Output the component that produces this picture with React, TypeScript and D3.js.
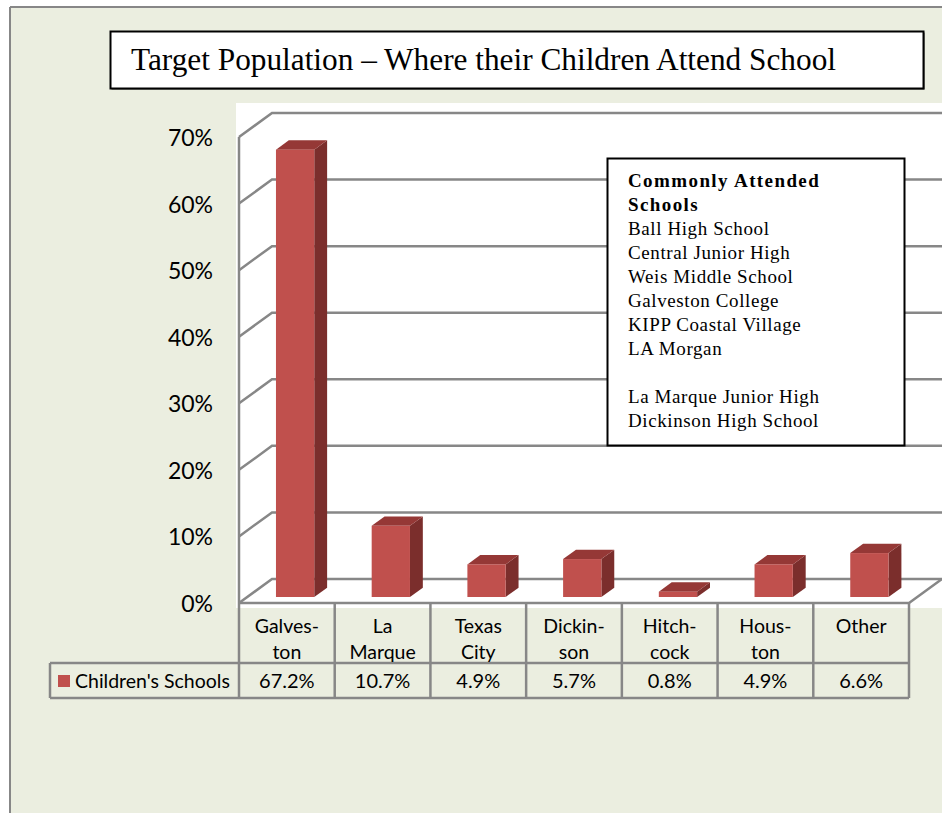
import React from "react";
import * as d3 from "d3";

const categoryLines: string[][] = [
  ["Galves-", "ton"],
  ["La", "Marque"],
  ["Texas", "City"],
  ["Dickin-", "son"],
  ["Hitch-", "cock"],
  ["Hous-", "ton"],
  ["Other"],
];
const values: number[] = [67.2, 10.7, 4.9, 5.7, 0.8, 4.9, 6.6];
const valueLabels: string[] = ["67.2%", "10.7%", "4.9%", "5.7%", "0.8%", "4.9%", "6.6%"];
const yTicks: number[] = [0, 10, 20, 30, 40, 50, 60, 70];
const seriesName = "Children's Schools";
const title = "Target Population \u2013 Where their Children Attend School";
const boxHeading: string[] = ["Commonly Attended", "Schools"];
const boxLines: string[] = [
  "Ball High School",
  "Central Junior High",
  "Weis Middle School",
  "Galveston College",
  "KIPP Coastal Village",
  "LA Morgan",
  "",
  "La Marque Junior High",
  "Dickinson High School",
];

const W = 942;
const H = 813;
const BG = "#ebeee0";
const GRID = "#878787";
const FRONT = "#c0504d";
const SIDE = "#7b2e2c";
const TOP = "#953836";
const SANS = "Lato, 'Open Sans', sans-serif";
const SERIF = "'Liberation Serif', 'DejaVu Serif', serif";

export default function App() {
  const x0 = 239;
  const x1 = 909;
  const DX = 33;
  const DY = -24;
  const x = d3.scaleBand<number>().domain(d3.range(values.length)).range([x0, x1]).paddingInner(0).paddingOuter(0);
  const y = d3.scaleLinear().domain([0, 70]).range([603, 137]);
  const bw = x.bandwidth();
  const barW = bw * 0.4;
  const f0 = 0.25;
  const fd = 0.39;
  const tableTop = y(0);
  const rowSep = 663;
  const tableBottom = 698;
  const legendLeft = 50;

  return (
    <svg width={W} height={H} style={{ position: "absolute", left: 0, top: 0 }} xmlns="http://www.w3.org/2000/svg">
      <rect x={0} y={0} width={W} height={H} fill="#ffffff" />
      <rect x={10} y={7} width={W - 10} height={H - 7} fill={BG} />
      <line x1={10} y1={7} x2={W} y2={7} stroke={GRID} strokeWidth={2} />
      <line x1={10} y1={7} x2={10} y2={H} stroke={GRID} strokeWidth={2} />

      {/* Title */}
      <rect x={111.5} y={32.5} width={813} height={57} fill="#333" />
      <rect x={110.5} y={31.5} width={813} height={57} fill="#fff" stroke="#000" strokeWidth={2} />
      <text x={131} y={70} fontFamily={SERIF} fontSize={31} textLength={705} lengthAdjust="spacingAndGlyphs" fill="#000">
        {title}
      </text>

      {/* plot area */}
      <rect x={236} y={103} width={W - 236} height={505} fill="#ffffff" />

      {/* gridlines */}
      {yTicks.map((t) => (
        <path
          key={t}
          d={`M${x0},${y(t)} L${x0 + DX},${y(t) + DY} L${W},${y(t) + DY}`}
          fill="none"
          stroke={GRID}
          strokeWidth={2.5}
        />
      ))}
      <line x1={x0} y1={y(70)} x2={x0} y2={y(0)} stroke={GRID} strokeWidth={2.5} />
      <path d={`M${x0},${y(0)} L${x1},${y(0)} L${x1 + DX},${y(0) + DY}`} fill="none" stroke={GRID} strokeWidth={2.5} />

      {/* bars */}
      {values.map((v, i) => {
        const cx = (x(i) as number) + bw / 2 + f0 * DX;
        const bx0 = cx - barW / 2;
        const bx1 = cx + barW / 2;
        const yb = y(0) + f0 * DY;
        const yt = y(v) + f0 * DY;
        const dx = fd * DX;
        const dy = fd * DY;
        return (
          <g key={i}>
            <polygon points={`${bx1},${yt} ${bx1 + dx},${yt + dy} ${bx1 + dx},${yb + dy} ${bx1},${yb}`} fill={SIDE} />
            <polygon points={`${bx0},${yt} ${bx0 + dx},${yt + dy} ${bx1 + dx},${yt + dy} ${bx1},${yt}`} fill={TOP} />
            <rect x={bx0} y={yt} width={barW} height={yb - yt} fill={FRONT} />
          </g>
        );
      })}

      {/* y axis labels */}
      {yTicks.map((t) => (
        <text key={t} x={213} y={y(t)} textAnchor="end" dominantBaseline="central" fontFamily={SANS} fontSize={23} fill="#000">
          {`${t}%`}
        </text>
      ))}

      {/* data table */}
      <line x1={legendLeft} y1={rowSep} x2={x1} y2={rowSep} stroke={GRID} strokeWidth={2.5} />
      <line x1={legendLeft} y1={tableBottom} x2={x1} y2={tableBottom} stroke={GRID} strokeWidth={2.5} />
      <line x1={legendLeft} y1={rowSep} x2={legendLeft} y2={tableBottom} stroke={GRID} strokeWidth={2.5} />
      {d3.range(values.length + 1).map((i) => {
        const xx = i < values.length ? (x(i) as number) : x1;
        return <line key={i} x1={xx} y1={tableTop} x2={xx} y2={tableBottom} stroke={GRID} strokeWidth={2.5} />;
      })}
      {categoryLines.map((lines, i) => (
        <text key={i} textAnchor="middle" fontFamily={SANS} fontSize={19.5} fill="#000">
          {lines.map((s, j) => (
            <tspan key={j} x={(x(i) as number) + bw / 2} y={633 + j * 26}>
              {s}
            </tspan>
          ))}
        </text>
      ))}
      {valueLabels.map((s, i) => (
        <text key={i} x={(x(i) as number) + bw / 2} y={688} textAnchor="middle" fontFamily={SANS} fontSize={20} fill="#000">
          {s}
        </text>
      ))}
      <rect x={58} y={675} width={12} height={12} fill={FRONT} />
      <text x={75} y={688} fontFamily={SANS} fontSize={19.5} fill="#000">
        {seriesName}
      </text>

      {/* text box */}
      <rect x={607.5} y={158.5} width={297} height={287} fill="#fff" stroke="#000" strokeWidth={2} />
      {boxHeading.map((s, j) => (
        <text key={s} x={628} y={187 + j * 24} fontFamily={SERIF} fontSize={19} fontWeight="bold" letterSpacing={1.4} fill="#000">
          {s}
        </text>
      ))}
      {boxLines.map((s, j) => (
        <text key={j} x={628} y={235 + j * 24} fontFamily={SERIF} fontSize={19} letterSpacing={0.6} fill="#000">
          {s}
        </text>
      ))}
    </svg>
  );
}
